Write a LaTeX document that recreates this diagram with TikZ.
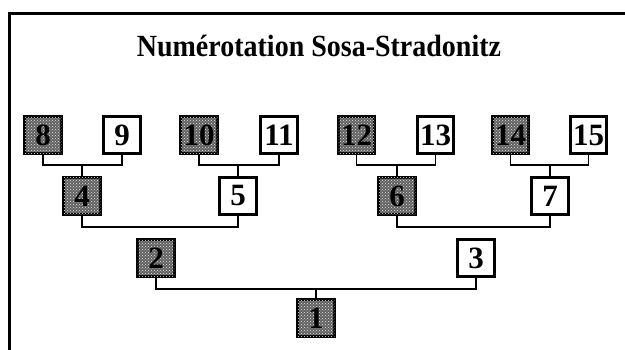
\documentclass[tikz,border=0pt]{standalone}
\usepackage{fontspec}
\setmainfont{Liberation Serif}
\usetikzlibrary{patterns}
\begin{document}
\begin{tikzpicture}[x=1pt,y=-1pt,
  person/.style={draw=black,line width=3pt,minimum size=36.5pt,inner sep=0pt,
    font=\fontsize{31}{31}\selectfont\bfseries,fill=white},
  shaded/.style={person,fill=black!62,
    postaction={pattern=crosshatch dots,pattern color=white!90!black}},
  link/.style={line width=1.6pt,line cap=rect}]
\useasboundingbox (0,0) rectangle (625,350);
\draw[line width=3pt] (9,400) -- (9,14) -- (700,14);
\node[anchor=base,font=\fontsize{28}{28}\selectfont\bfseries] (title) at (319,57) {\scalebox{1}[1.1]{Numérotation Sosa-Stradonitz}};
% row 1
\node[shaded] (n8) at (43,135) {8};
\node[person] (n9) at (122,135) {9};
\node[shaded] (n10) at (199,135) {10};
\node[person] (n11) at (279,135) {11};
\node[shaded] (n12) at (356.5,135) {12};
\node[person] (n13) at (435.5,135) {13};
\node[shaded] (n14) at (510.5,135) {14};
\node[person] (n15) at (588.5,135) {15};
% row 2
\node[shaded] (n4) at (82,196) {4};
\node[person] (n5) at (238,196) {5};
\node[shaded] (n6) at (397,196) {6};
\node[person] (n7) at (550,196) {7};
% row 3
\node[shaded] (n2) at (156,258) {2};
\node[person] (n3) at (476,258) {3};
% row 4
\node[shaded] (n1) at (316,318) {1};
% connectors
\draw[link] (n8.south) -- (n8.south |- 0,165) -| (n9.south);
\draw[link] (n4.north) -- (n4.north |- 0,165);
\draw[link] (n10.south) -- (n10.south |- 0,165) -| (n11.south);
\draw[link] (n5.north) -- (n5.north |- 0,165);
\draw[link] (n12.south) -- (n12.south |- 0,165) -| (n13.south);
\draw[link] (n6.north) -- (n6.north |- 0,165);
\draw[link] (n14.south) -- (n14.south |- 0,165) -| (n15.south);
\draw[link] (n7.north) -- (n7.north |- 0,165);
\draw[link] (n4.south) -- (n4.south |- 0,227) -| (n5.south);
\draw[link] (n6.south) -- (n6.south |- 0,227) -| (n7.south);
\draw[link] (n2.south) -- (n2.south |- 0,289) -| (n3.south);
\draw[link] (n1.north) -- (n1.north |- 0,289);
\end{tikzpicture}
\end{document}
